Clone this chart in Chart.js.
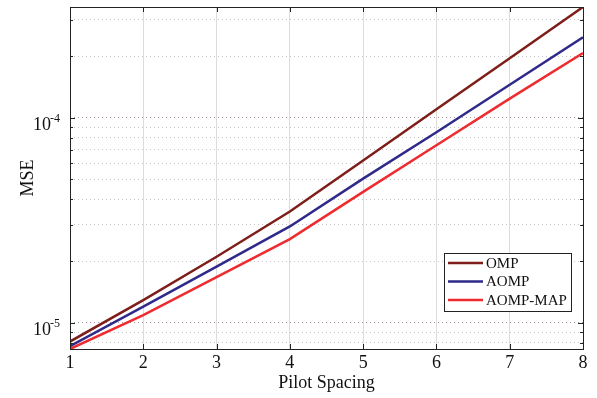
<!DOCTYPE html>
<html lang="en">
<head>
    <meta charset="UTF-8">
    <title>MSE vs Pilot Spacing</title>
    <script src="https://cdn.jsdelivr.net/npm/chart.js"></script>
    <style>
        html, body { margin: 0; padding: 0; background: #fff; }
        #wrap { width: 597px; height: 398px; }
    </style>
</head>
<body>
    <div id="wrap"><canvas id="grafico" width="597" height="398"></canvas></div>

    <script>
        // valores
        const pilotSpacing = [1, 2, 3, 4, 5, 6, 7, 8];
        const mseOMP     = [8.1e-6, 1.29e-5, 2.1e-5, 3.49e-5, 6.19e-5, 1.10e-4, 1.95e-4, 3.47e-4];
        const mseAOMP    = [7.7e-6, 1.20e-5, 1.88e-5, 2.95e-5, 5.05e-5, 8.5e-5, 1.45e-4, 2.47e-4];
        const mseAOMPMAP = [7.45e-6, 1.09e-5, 1.67e-5, 2.56e-5, 4.35e-5, 7.35e-5, 1.24e-4, 2.07e-4];

        const seriesLabels = ["OMP", "AOMP", "AOMP-MAP"];
        const seriesColors = ["#7e1e1a", "#2f2a8a", "#ee2b2f"];

        // marcas do eixo y (log) e os rótulos de potência
        const yTicks = [8e-6, 9e-6, 1e-5, 2e-5, 3e-5, 4e-5, 5e-5, 6e-5, 7e-5, 8e-5, 9e-5, 1e-4, 2e-4, 3e-4];
        const yLabelExps = [-5, -4];
        const yMin = 7.45e-6, yMax = 3.47e-4;

        const serif = "'Liberation Serif', 'Times New Roman', serif";
        Chart.defaults.font.family = serif;
        Chart.defaults.color = "#111";

        const isMajor = v => Math.abs(Math.log10(v) - Math.round(Math.log10(v))) < 1e-6;

        // moldura, marcas internas, rótulos 10^n e legenda
        const extras = {
            id: "extras",
            afterDraw(chart) {
                const { ctx, chartArea: a, scales: { x, y } } = chart;
                ctx.save();
                ctx.strokeStyle = "#222";
                ctx.lineWidth = 1;
                ctx.beginPath();
                x.ticks.forEach(t => {
                    const px = Math.round(x.getPixelForValue(t.value)) + 0.5;
                    ctx.moveTo(px, a.bottom); ctx.lineTo(px, a.bottom - 5);
                    ctx.moveTo(px, a.top); ctx.lineTo(px, a.top + 5);
                });
                yTicks.forEach(v => {
                    const py = Math.round(y.getPixelForValue(v)) + 0.5;
                    const len = isMajor(v) ? 5 : 3;
                    ctx.moveTo(a.left, py); ctx.lineTo(a.left + len, py);
                    ctx.moveTo(a.right, py); ctx.lineTo(a.right - len, py);
                });
                ctx.stroke();
                ctx.strokeRect(Math.round(a.left) + 0.5, Math.round(a.top) + 0.5,
                    Math.round(a.right - a.left), Math.round(a.bottom - a.top));

                // rótulos do eixo y
                ctx.fillStyle = "#111";
                ctx.textBaseline = "alphabetic";
                yLabelExps.forEach(e => {
                    const py = y.getPixelForValue(Math.pow(10, e));
                    ctx.font = "12px " + serif;
                    ctx.textAlign = "left";
                    ctx.fillText(String(e), 50, py + 4);
                    ctx.font = "18px " + serif;
                    ctx.textAlign = "right";
                    ctx.fillText("10", 51, py + 12);
                });

                // legenda
                const lx = 444, ly = 253, lw = 127, lh = 58;
                ctx.fillStyle = "#fff";
                ctx.fillRect(lx, ly, lw, lh);
                ctx.strokeStyle = "#222";
                ctx.strokeRect(lx + 0.5, ly + 0.5, lw, lh);
                ctx.font = "15px " + serif;
                ctx.textAlign = "left";
                ctx.textBaseline = "middle";
                seriesLabels.forEach((lab, i) => {
                    const ry = 263 + i * 18.5;
                    ctx.strokeStyle = seriesColors[i];
                    ctx.lineWidth = 2.5;
                    ctx.beginPath();
                    ctx.moveTo(448, ry); ctx.lineTo(483, ry);
                    ctx.stroke();
                    ctx.fillStyle = "#111";
                    ctx.fillText(lab, 486, ry + 1);
                });
                ctx.restore();
            }
        };

        const series = [mseOMP, mseAOMP, mseAOMPMAP];
        new Chart(document.getElementById("grafico"), {
            type: "line",
            data: {
                labels: pilotSpacing,
                datasets: series.map((vals, i) => ({
                    label: seriesLabels[i],
                    data: pilotSpacing.map((p, j) => ({ x: p, y: vals[j] })),
                    borderColor: seriesColors[i],
                    borderWidth: 2.5,
                    pointRadius: 0,
                    tension: 0,
                    fill: false
                }))
            },
            options: {
                responsive: false,
                animation: false,
                layout: { padding: { top: 7, right: 14, left: 0, bottom: 0 } },
                plugins: { legend: { display: false }, tooltip: { enabled: false } },
                scales: {
                    x: {
                        type: "linear",
                        min: 1, max: 8,
                        ticks: { stepSize: 1, font: { size: 18 }, padding: 3, color: "#111" },
                        grid: { color: "#dcdcdc", drawTicks: false },
                        border: { display: false },
                        title: { display: true, text: "Pilot Spacing", font: { size: 18 }, color: "#111", padding: { top: 0, bottom: 4 } },
                        afterFit: s => { s.height = 49; }
                    },
                    y: {
                        type: "logarithmic",
                        min: yMin, max: yMax,
                        afterBuildTicks: s => { s.ticks = yTicks.map(v => ({ value: v })); },
                        ticks: { display: false },
                        grid: {
                            drawTicks: false,
                            color: c => (c.tick && isMajor(c.tick.value)) ? "#a89a9a" : "#c4c4c4"
                        },
                        border: { display: false, dash: [1, 3] },
                        title: { display: true, text: "MSE", font: { size: 18 }, color: "#111", padding: { top: 17, bottom: 0 } },
                        afterFit: s => { s.width = 70; }
                    }
                }
            },
            plugins: [extras]
        });
    </script>
</body>
</html>
